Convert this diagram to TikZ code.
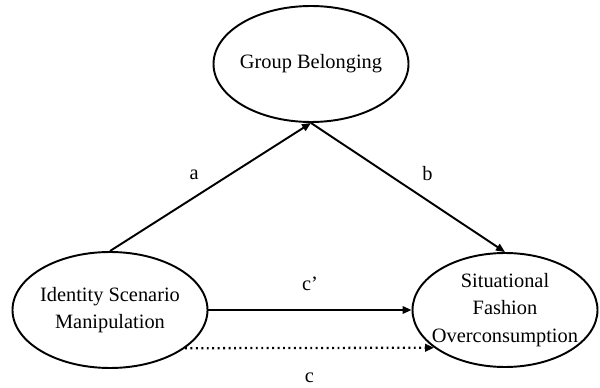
\documentclass[tikz,border=0pt]{standalone}
\usepackage{fontspec}
\setmainfont{Liberation Serif}
\usepackage{tikz}
\usetikzlibrary{positioning,shapes.geometric,arrows.meta}

\begin{document}
\begin{tikzpicture}[
  font=\fontsize{11.6}{15.5}\selectfont,
  lat/.style={ellipse, draw=black, line width=1.1pt, inner xsep=-1.6mm, inner ysep=0pt, align=center, minimum width=3.9cm, minimum height=2.32cm},
  fl/.style={-{Triangle[length=1.8mm, width=1.5mm]}, draw=black, line width=1.1pt},
  dt/.style={fl, dotted, line width=1.3pt}
]
\useasboundingbox (0,0) rectangle (12,7.76);
\node[lat] (gb) at (6.22,6.48) {Group Belonging};
\node[lat] (isc) at (2.2,1.56) {Identity Scenario\\Manipulation};
\node[lat, minimum width=3.7cm, minimum height=2.28cm] (sfo) at (10.1,1.56) {Situational\\Fashion\\Overconsumption};
\draw[fl](isc.north) -- node[above left=0mm and 1mm] {a} (gb.south);
\draw[fl](gb.south) -- node[above right=0mm and 1.5mm] {b} (sfo.north);
\draw[fl](isc.east) -- node[above=2.5mm] {c’} (sfo.west);
\draw[dt](isc.-27) -- node[below=3.5mm] {c} (sfo.208);
\end{tikzpicture}
\end{document}
